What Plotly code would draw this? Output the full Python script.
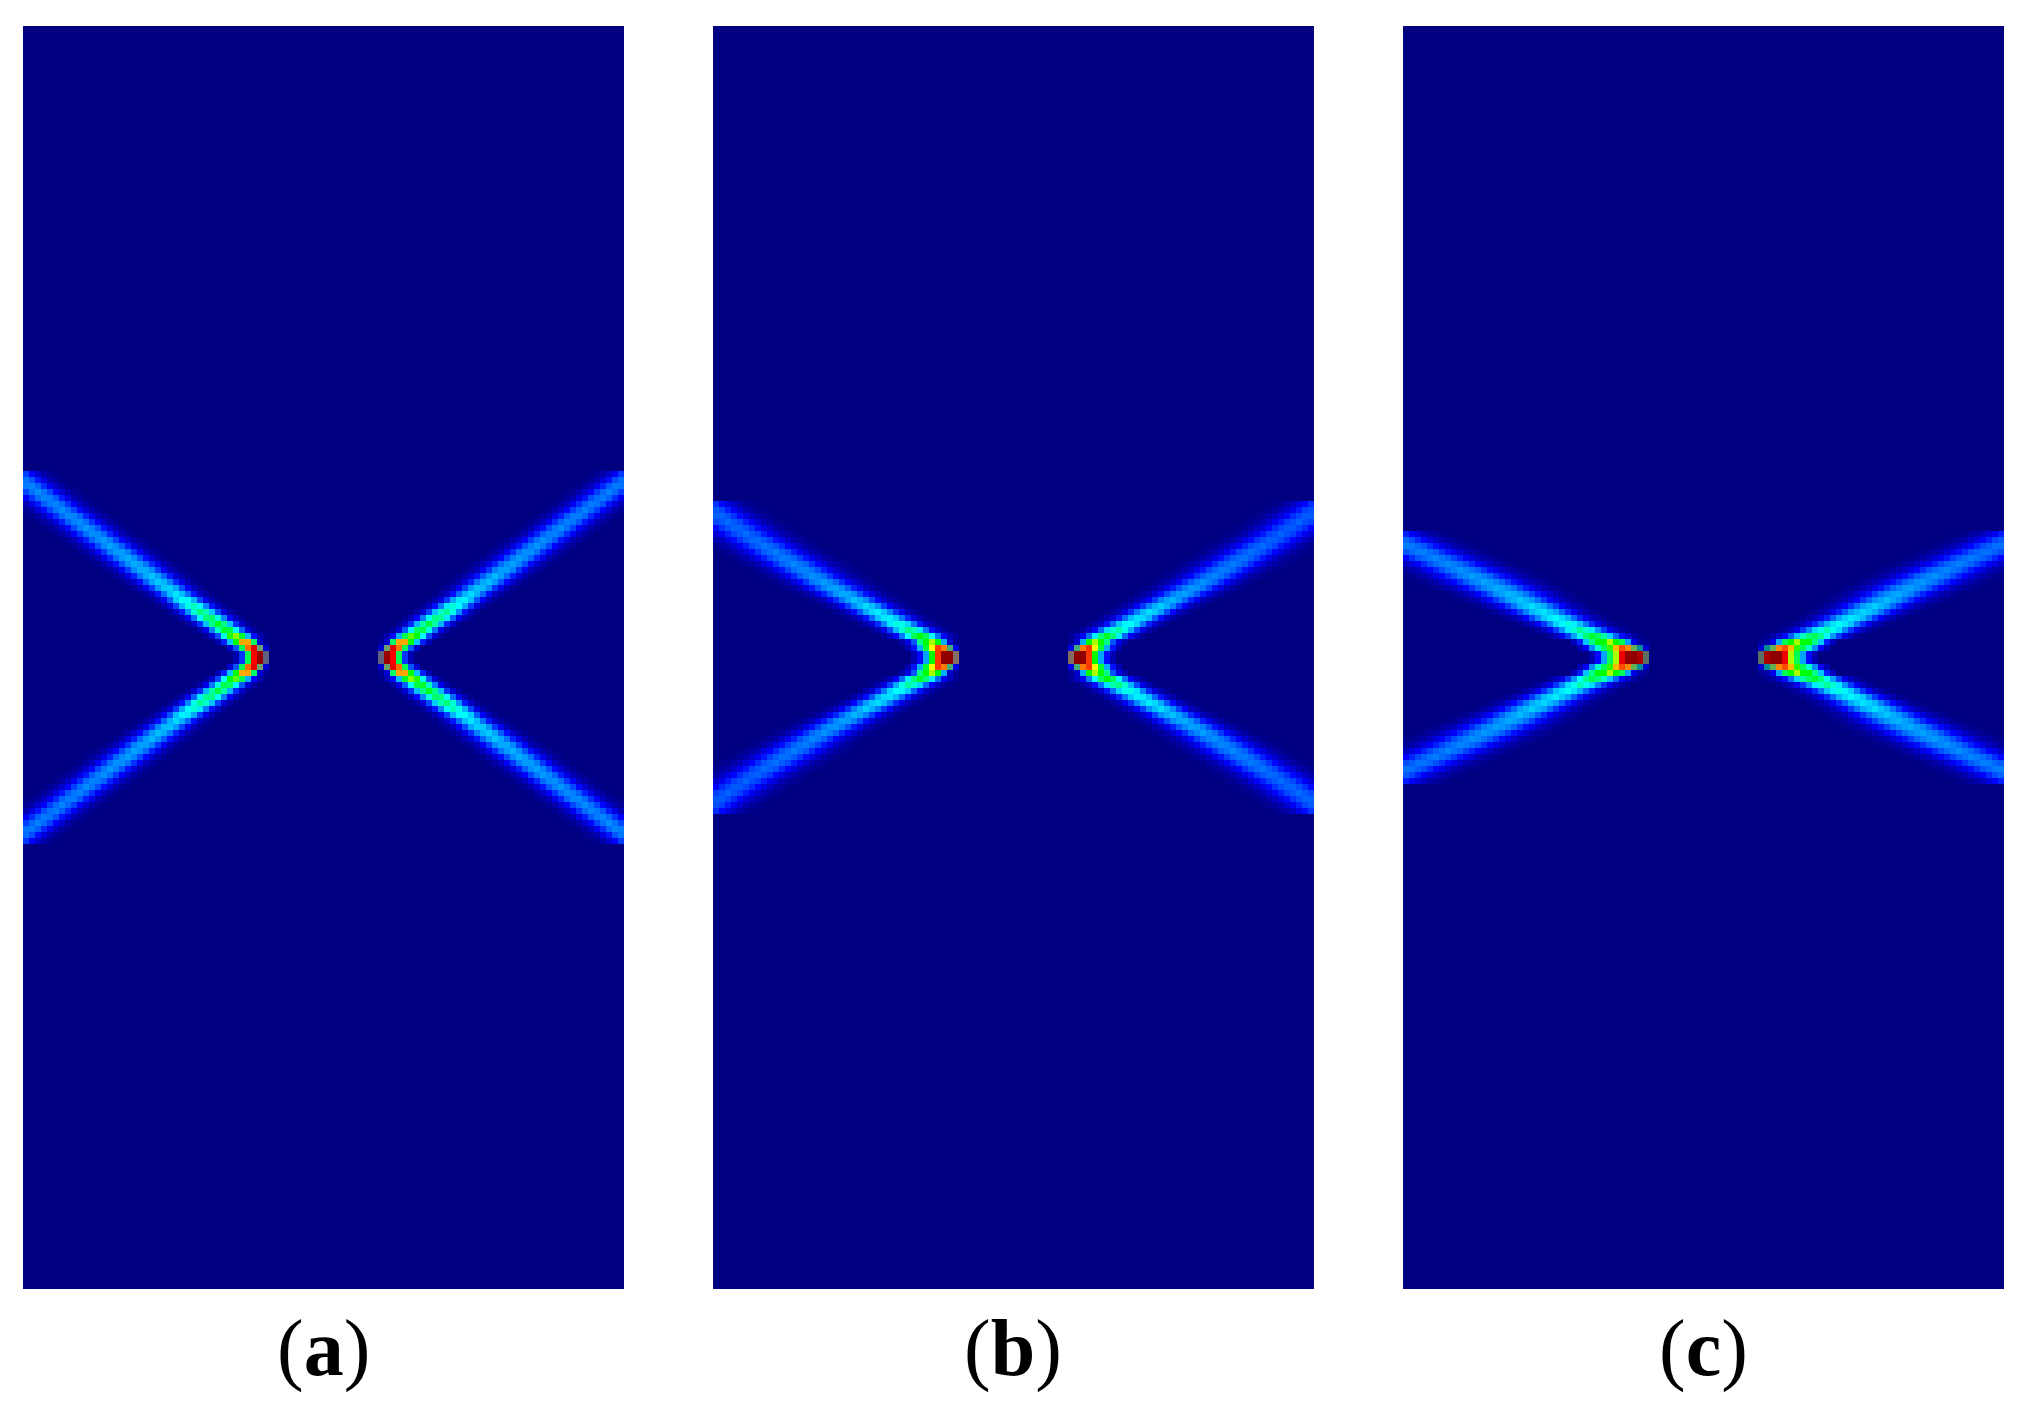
import numpy as np
import plotly.graph_objects as go
from plotly.subplots import make_subplots

N_ROWS = 210
N_COLS = 100
LABELS = ["(<b>a</b>)", "(<b>b</b>)", "(<b>c</b>)"]

# cell colours that are not on the colour ramp, keyed by the z value that stands for them
SPECIAL_Z = [1.05, 1.10, 1.15, 1.20, 1.25, 1.30, 1.35]
SPECIAL_COLORS = ["rgb(96,96,128)", "rgb(110,160,110)", "rgb(130,110,100)", "rgb(70,170,120)",
                  "rgb(90,110,100)", "rgb(100,175,85)", "rgb(0,140,150)"]
RAMP_STOPS = [0, 0.125, 0.35, 0.5, 0.62, 0.85, 1]
RAMP_COLORS = ["rgb(0,0,128)", "rgb(0,0,255)", "rgb(0,255,255)", "rgb(0,255,0)", "rgb(255,255,0)",
               "rgb(255,0,0)", "rgb(128,0,0)"]

# cross section of a band, distance from ridge in band widths
PROFILE_DIST = [0, 0.5, 1, 1.5, 2, 2.5]
PROFILE_WEIGHT = [1, 0.85, 0.5, 0.2, 0.06, 0]

# lower left and upper right bands are a little dimmer than the other two
DIM_BANDS = 0.96

# the 3 rows next to the centre line, read cell by cell, from column 40 going left
APEX_A = [[1.05, 0.97, 0.85, 0.45, 0.17, 0.05],
          [0.08, 1.10, 0.88, 0.75, 0.45, 0.2, 0.08],
          [0.02, 0.08, 0.44, 0.7, 0.7, 0.5, 0.3, 0.15, 0.05]]
APEX_B = [[1.15, 0.98, 0.98, 0.8, 0.5, 0.27, 0.13, 0.05],
          [0.1, 1.20, 0.74, 0.8, 0.62, 0.47, 0.28, 0.14, 0.05],
          [0.02, 0.08, 0.28, 0.5, 0.58, 0.5, 0.42, 0.2, 0.1, 0.04]]
APEX_C = [[1.25, 0.95, 0.98, 0.98, 0.87, 0.58, 0.45, 0.27, 0.13, 0.05],
          [0.08, 1.35, 1.30, 0.73, 0.78, 0.68, 0.52, 0.45, 0.38, 0.25, 0.12, 0.05],
          [0.02, 0.04, 0.1, 0.27, 0.45, 0.5, 0.58, 0.5, 0.5, 0.42, 0.3, 0.15, 0.06]]

# ridge of the upper left band, from the 4th row above the centre line outwards
RIDGE_A = [34.8, 33.4, 32.0, 30.6, 29.2, 27.8, 26.4, 25.0, 23.6, 22.2, 20.9, 19.5, 18.2, 16.8, 15.5, 14.1,
           12.8, 11.4, 10.1, 8.7, 7.4, 6.0, 4.7, 3.3, 2.0, 0.6, -0.7, -2.0]
PEAK_A = [0.58, 0.5, 0.48, 0.46, 0.44, 0.4, 0.37, 0.33, 0.32, 0.31, 0.3, 0.29, 0.285, 0.28, 0.275, 0.27,
          0.265, 0.26, 0.26, 0.255, 0.255, 0.25, 0.25, 0.25, 0.25, 0.25, 0.245, 0.24]
WIDTH_A = [2.2, 2.3, 2.4, 2.5, 2.5, 2.6, 2.6, 2.7, 2.8, 2.9, 3.0, 3.0, 3.1, 3.1, 3.1, 3.1,
           3.1, 3.1, 3.1, 3.1, 3.1, 3.1, 3.1, 3.1, 3.1, 3.1, 3.1, 3.1]

RIDGE_B = [34.0, 32.2, 30.4, 28.6, 26.8, 25.0, 23.2, 21.4, 19.6, 17.9, 16.2, 14.6, 13.0, 11.4, 9.8, 8.2,
           6.6, 5.0, 3.5, 2.0, 0.5, -1.0, -2.5]
PEAK_B = [0.5, 0.43, 0.38, 0.35, 0.34, 0.32, 0.3, 0.285, 0.275, 0.265, 0.255, 0.25, 0.245, 0.24, 0.235, 0.23,
          0.225, 0.22, 0.22, 0.22, 0.22, 0.22, 0.22]
WIDTH_B = [2.8, 2.9, 3.0, 3.1, 3.2, 3.3, 3.4, 3.6, 3.7, 3.8, 3.9, 4.0, 4.1, 4.1, 4.1, 4.1,
           4.1, 4.1, 4.1, 4.1, 4.1, 4.1, 4.1]

RIDGE_C = [31.2, 29.0, 26.9, 24.8, 22.8, 21.0, 19.0, 17.3, 15.2, 13.2, 11.2, 9.2, 7.0, 4.8, 2.6, 0.4, -1.8, -4.0]
PEAK_C = [0.48, 0.41, 0.37, 0.35, 0.33, 0.32, 0.3, 0.29, 0.28, 0.27, 0.265, 0.255, 0.25, 0.245, 0.24, 0.24, 0.24, 0.24]
WIDTH_C = [3.5, 3.6, 3.7, 3.9, 4.1, 4.3, 4.5, 4.7, 4.9, 5.0, 5.0, 5.0, 5.0, 5.0, 5.0, 5.0, 5.0, 5.0]


def build_panel(apex, ridge, peak, width):
    half_r, half_c = N_ROWS // 2, N_COLS // 2
    upper = np.zeros((half_r, half_c))
    cols = np.arange(half_c)
    for i, (r, p, w) in enumerate(zip(ridge, peak, width)):
        row = half_r - 1 - len(apex) - i
        upper[row, cols] = p * np.interp(np.abs(cols - r) / w, PROFILE_DIST, PROFILE_WEIGHT)
    lower = upper * DIM_BANDS
    for k, cells in enumerate(apex):
        for j, val in enumerate(cells):
            upper[half_r - 1 - k, 40 - j] = val
            lower[half_r - 1 - k, 40 - j] = val
    # point symmetric: the dim band sits lower left and upper right
    top = np.hstack([upper, lower[:, ::-1]])
    bottom = np.hstack([lower[::-1, :], upper[::-1, ::-1]])
    return np.vstack([top, bottom])


def build_colorscale():
    zmax = SPECIAL_Z[-1] + 0.025
    scale = [[s / zmax, c] for s, c in zip(RAMP_STOPS, RAMP_COLORS)]
    for z_val, color in zip(SPECIAL_Z, SPECIAL_COLORS):
        scale.append([(z_val - 0.025) / zmax, color])
        scale.append([(z_val + 0.025) / zmax, color])
    return scale, zmax


panels = [(APEX_A, RIDGE_A, PEAK_A, WIDTH_A), (APEX_B, RIDGE_B, PEAK_B, WIDTH_B), (APEX_C, RIDGE_C, PEAK_C, WIDTH_C)]
lefts = [23, 713, 1403]
colorscale, zmax = build_colorscale()

fig = make_subplots(rows=1, cols=3)
for i, args in enumerate(panels):
    fig.add_trace(go.Heatmap(z=build_panel(*args), colorscale=colorscale, zmin=0, zmax=zmax,
                             showscale=False, zsmooth=False, hoverinfo="skip"), row=1, col=i + 1)
    fig.update_xaxes(domain=[lefts[i] / 2024, (lefts[i] + 601) / 2024], range=[-0.5, N_COLS - 0.5],
                     visible=False, row=1, col=i + 1)
    fig.update_yaxes(domain=[1 - 1289 / 1415, 1 - 26 / 1415], range=[N_ROWS - 0.5, -0.5],
                     visible=False, row=1, col=i + 1)
    fig.add_annotation(text=LABELS[i], x=(lefts[i] + 300.5) / 2024, y=1 - 1348 / 1415, xref="paper", yref="paper",
                       showarrow=False, xanchor="center", yanchor="middle",
                       font=dict(family="Liberation Serif", size=80, color="black"))

fig.update_layout(width=2024, height=1415, autosize=False, margin=dict(l=0, r=0, t=0, b=0),
                  paper_bgcolor="white", plot_bgcolor="white", showlegend=False)
fig.write_html("out.html", config={"displayModeBar": False}, post_script="document.body.style.margin='0'")
